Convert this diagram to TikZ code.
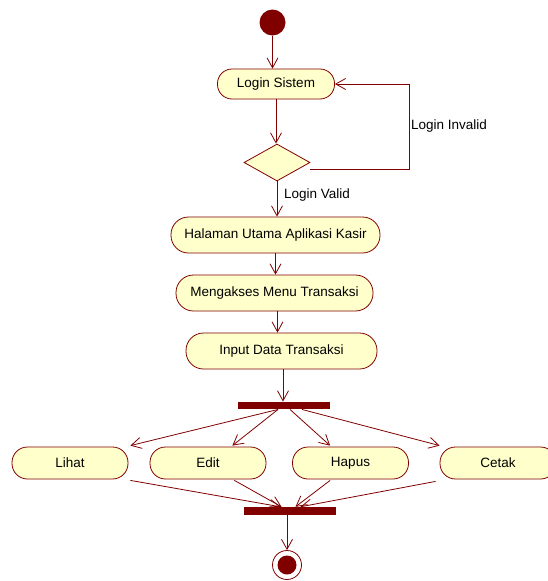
\documentclass[tikz,border=0pt]{standalone}
\usepackage{fontspec}
\setmainfont{Liberation Sans}
\usetikzlibrary{arrows.meta,shapes.geometric,calc}
\definecolor{umlline}{RGB}{128,0,0}
\definecolor{umlfill}{RGB}{255,255,204}
\begin{document}
\begin{tikzpicture}[x=1pt,y=-1pt,
  every node/.style={font=\fontsize{13.5}{15}\selectfont},
  act/.style={rectangle,draw=umlline,fill=umlfill,line width=0.8pt,
    inner sep=0pt,minimum height=#1,rounded corners=(#1)/2-0.5pt},
  act/.default=36pt,
  bar/.style={rectangle,fill=umlline,draw=none,inner sep=0pt,minimum height=8pt,minimum width=92pt},
  flow/.style={draw=umlline,line width=0.8pt,-{Straight Barb[length=10pt,width=11pt,line width=0.8pt]}},
  lbl/.style={inner sep=0pt,anchor=west,text=black}]
\useasboundingbox (0,0) rectangle (547,581);

% initial and final states
\node[circle,fill=umlline,minimum size=26pt,inner sep=0pt] (start) at (272.5,22.5) {};
\node[circle,draw=umlline,line width=0.8pt,fill=white,minimum size=29pt,inner sep=0pt] (end) at (287,565) {};
\fill[umlline] (end) circle (9.5pt);

% actions
\node[act=30pt,minimum width=117pt] (login) at (276,84) {Login Sistem};
\node[diamond,draw=umlline,fill=umlfill,line width=0.8pt,inner sep=0pt,
      minimum width=66pt,minimum height=37pt] (dec) at (277,162.5) {};
\node[act,minimum width=209pt] (home) at (275.5,235) {Halaman Utama Aplikasi Kasir};
\node[act,minimum width=197pt] (menu) at (274.5,293) {Mengakses Menu Transaksi};
\node[act,minimum width=191pt] (input) at (281.5,351) {Input Data Transaksi};

% fork / join bars
\node[bar,minimum height=7.5pt] (fork) at (284,405.5) {};
\node[bar] (join) at (289.5,511) {};

% parallel actions
\node[act=32pt,minimum width=116pt] (lihat) at (70,463) {Lihat};
\node[act=32pt,minimum width=116pt] (edit) at (208,463) {Edit};
\node[act=32pt,minimum width=116pt] (hapus) at (350.5,463) {Hapus};
\node[act=32pt,minimum width=116pt] (cetak) at (498,463) {Cetak};

% main flow
\draw[flow] (start.south) -- (start.south |- login.north);
\draw[flow] (login.south) -- (login.south |- dec.north);
\draw[flow] (dec.south) -- (dec.south |- home.north);
\draw[flow] (home.south) -- (home.south |- menu.north);
\draw[flow] ([xshift=3pt]menu.south) -- ([xshift=3pt]menu.south |- input.north);
\draw[flow] ([xshift=1.5pt]input.south) -- ([xshift=1.5pt]input.south |- fork.north);

% invalid login loop
\coordinate (loopx) at (409,0);
\draw[flow] ([yshift=-6.5pt]dec.east) -| (loopx |- login.east) -- (login.east);
\node[lbl] at (411,126) {Login Invalid};
\node[lbl] at (284,195) {Login Valid};

% fork branches
\draw[flow] ([xshift=-6pt]fork.south) -- ([xshift=2pt,yshift=1pt]lihat.north east);
\draw[flow] ([xshift=-6pt]fork.south) -- ([xshift=-34pt,yshift=1pt]edit.north east);
\draw[flow] ([xshift=6pt]fork.south) -- ([xshift=38pt,yshift=1pt]hapus.north west);
\draw[flow] ([xshift=18pt]fork.south) -- ([yshift=1pt]cetak.north west);

% join branches
\draw[flow] ([xshift=2pt,yshift=-1pt]lihat.south east) -- ([xshift=-9pt]join.north);
\draw[flow] ([xshift=-32pt,yshift=-1pt]edit.south east) -- ([xshift=-8pt]join.north);
\draw[flow] ([xshift=38pt,yshift=-1pt]hapus.south west) -- ([xshift=6pt]join.north);
\draw[flow] ([xshift=-4pt,yshift=-2pt]cetak.south west) -- ([xshift=11pt]join.north);

\draw[flow] (join.south -| end) -- (end.north);
\end{tikzpicture}
\end{document}
